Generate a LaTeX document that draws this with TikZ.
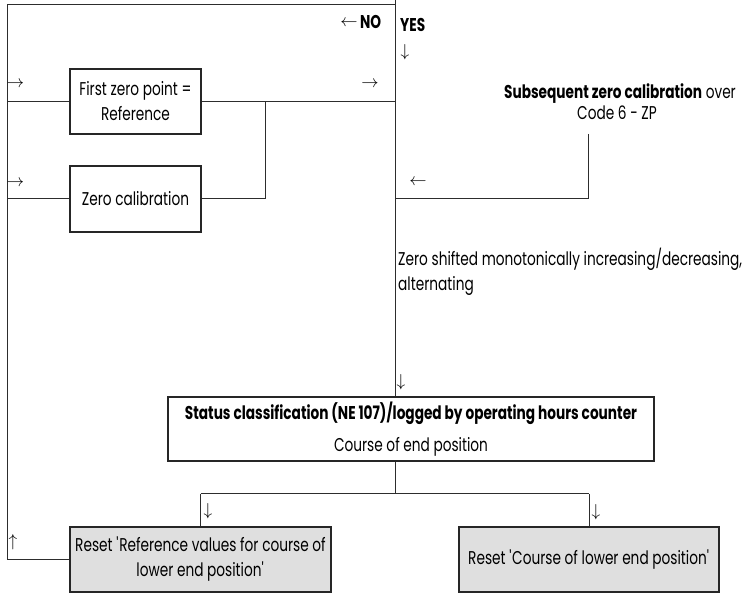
\documentclass[tikz,border=0pt]{standalone}
\usepackage{fontspec}
\setmainfont{Poppins}[FakeStretch=0.74]
\definecolor{boxgray}{RGB}{223,223,223}
\definecolor{linegray}{RGB}{45,45,45}
\begin{document}
\begin{tikzpicture}[x=1pt,y=-1pt]
\tikzset{
  conn/.style={draw=linegray, line width=1pt},
  box/.style={draw=black!85, line width=2pt, inner sep=0pt, align=center},
  gbox/.style={box, fill=boxgray},
  txt/.style={inner sep=0pt, font=\fontsize{18.5}{22}\selectfont},
  arr/.style={inner sep=0pt, font=\fontsize{16}{16}\selectfont},
}
\useasboundingbox (0,0) rectangle (748,593);

% boxes
\node[box, minimum width=131pt, minimum height=65pt, font=\fontsize{18.5}{25}\selectfont] (b1) at (135.5,101.5) {First zero point =\\Reference};
\node[box, minimum width=131pt, minimum height=66pt, font=\fontsize{18.5}{22}\selectfont] (b2) at (135.5,199) {Zero calibration};
\node[box, minimum width=486pt, minimum height=64pt, font=\fontsize{18.5}{32}\selectfont] (st) at (411,429) {\textbf{Status classification (NE 107)/logged by operating hours counter}\\Course of end position};
\node[gbox, minimum width=261pt, minimum height=65pt, font=\fontsize{18.5}{25}\selectfont] (b3) at (200.5,559.5) {Reset \textquotesingle Reference values for course of\\lower end position\textquotesingle};
\node[gbox, minimum width=260pt, minimum height=65pt, font=\fontsize{18.5}{22}\selectfont] (b4) at (589,559.5) {Reset \textquotesingle Course of lower end position\textquotesingle};

% coordinates
\coordinate (tl) at (7,5);
\coordinate (tr) at (395,5);
\coordinate (vtop) at (395,0);
\coordinate (j) at (265,101.5);
\coordinate (s1) at (588,134);
\coordinate (br) at (395,494);

% connectors
\draw[conn] (vtop) -- (vtop |- st.north);
\draw[conn] (tr) -- (tl) -- (tl |- b3.west) -- (b3.west);
\draw[conn] (b1.west -| tl) -- (b1.west);
\draw[conn] (b1.east) -- (b1.east -| tr);
\draw[conn] (b2.west -| tl) -- (b2.west);
\draw[conn] (b2.east) -- (b2.east -| j) -- (j);
\draw[conn] (s1) -- (s1 |- b2.east) -- (tr |- b2.east);
\draw[conn] (st.south -| br) -- (br);
\draw[conn] (b3.north |- br) -- (b4.north |- br);
\draw[conn] (b3.north |- br) -- (b3.north);
\draw[conn] (b4.north |- br) -- (b4.north);

% labels
\node[arr] (a1) at (15.5,84) {$\rightarrow$};
\node[arr] (a2) at (15.5,183) {$\rightarrow$};
\node[arr] (a3) at (370,84) {$\rightarrow$};
\node[arr] (a4) at (418,182) {$\leftarrow$};
\node[arr] (a5) at (349,23) {$\leftarrow$};
\node[txt, anchor=base west] (no) at (360,29) {\textbf{NO}};
\node[txt, anchor=base west] (yes) at (400,32) {\textbf{YES}};
\node[arr] (a6) at (405,52) {$\downarrow$};
\node[arr] (a7) at (401,382) {$\downarrow$};
\node[arr] (a8) at (208,511) {$\downarrow$};
\node[arr] (a9) at (596,512) {$\downarrow$};
\node[arr] (a10) at (13,542) {$\uparrow$};
\node[txt, anchor=base] (sub1) at (620,99) {\textbf{Subsequent zero calibration} over};
\node[txt, anchor=base] (sub2) at (617,120) {Code 6 - ZP};
\node[txt, anchor=base west] (z1) at (398,266) {Zero shifted monotonically increasing/decreasing,};
\node[txt, anchor=base west] (z2) at (398,291) {alternating};
\end{tikzpicture}
\end{document}
